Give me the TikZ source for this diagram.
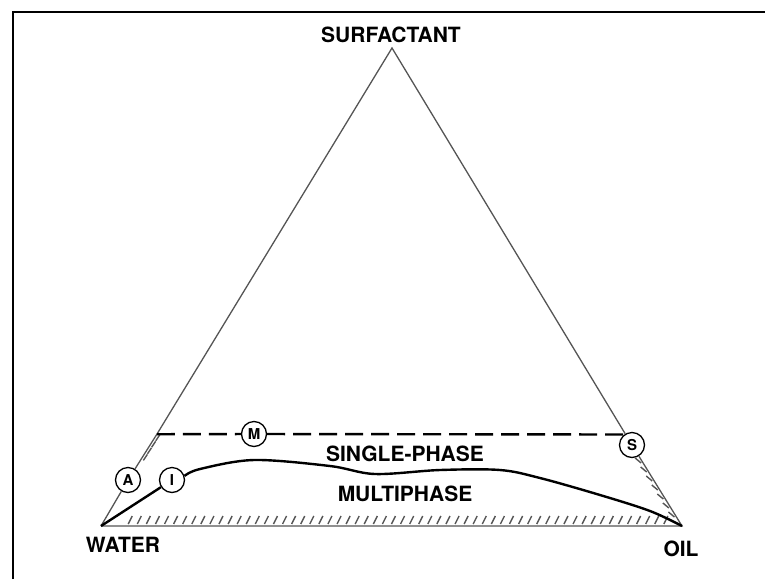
\documentclass[tikz,border=0pt]{standalone}
\usepackage{fontspec}
\setmainfont{TeX Gyre Heros}
\usepackage{tikz}
\usetikzlibrary{positioning, calc}
\definecolor{edgegray}{HTML}{555555}
\definecolor{hatchgray}{HTML}{555555}
\tikzset{
  % corner and region labels
  lbl/.style={font=\fontsize{21}{23}\selectfont\bfseries, inner sep=0pt},
  % circled composition points
  marker/.style={circle, draw=black, fill=white, line width=1.3pt,
                 minimum size=25pt, inner sep=0pt,
                 font=\fontsize{15}{16}\selectfont\bfseries},
  % triangle sides
  side/.style={draw=edgegray, line width=1.3pt},
  % phase boundary and dilution line
  boundary/.style={draw=black, line width=2.4pt},
  dilution/.style={draw=black, line width=2.4pt, dash pattern=on 18pt off 8pt},
  hatch/.style={draw=hatchgray, line width=1.4pt},
  frame/.style={draw=black, line width=2pt},
}

\begin{document}
\begin{tikzpicture}[x=1pt, y=-1pt]
\useasboundingbox (0,0) rectangle (765,579);

% ── Frame ────────────────────────────────────────────────────────────────────
\draw[frame] (13,579) -- (13,12) -- (765,12);

% ── Corners ──────────────────────────────────────────────────────────────────
\coordinate (surf)  at (392, 48);
\coordinate (water) at (101,526);
\coordinate (oil)   at (682,526);
\coordinate (corner) at ($(water)!0.192!(surf)$);

% ── Points ───────────────────────────────────────────────────────────────────
\node[marker] (A) at (128,480) {A};
\node[marker] (I) at (172,480) {I};
\node[marker] (M) at (254,434) {M};
\node[marker] (S) at (632,445) {S};

% ── Labels ───────────────────────────────────────────────────────────────────
\node[lbl] (surflabel)  at (391, 35) {SURFACTANT};
\node[lbl] (waterlabel) at (123,545) {WATER};
\node[lbl] (oillabel)   at (681,549) {OIL};
\node[lbl] (single)     at (405,454) {SINGLE-PHASE};
\node[lbl] (multi)      at (405,494) {MULTIPHASE};

% ── Triangle ─────────────────────────────────────────────────────────────────
\draw[side] (water) -- (A) -- (corner) -- (surf) -- (S) -- (oil) -- (water);

% hatching on the sides of the multiphase region
\foreach \i [evaluate=\i as \f using \i/64] in {3,...,62}
  \draw[hatch] ($(water)!\f!(oil)$) ++(0,-2) -- ++(4,-8);
\foreach \i [evaluate=\i as \f using \i/9] in {2,...,8}
  \draw[hatch] ($(S)!\f!(oil)$) ++(-2,0) -- ++(-6,-5);
\foreach \i [evaluate=\i as \f using \i/7] in {1,...,4}
  \draw[hatch] ($(corner)!\f!(A)$) ++(3,0) -- ++(4,-6);

% ── Dilution line ────────────────────────────────────────────────────────────
\draw[dilution] (corner) -- (M) -- (S.127);

% ── Phase boundary ───────────────────────────────────────────────────────────
\draw[boundary] (water) -- (I);
\draw[boundary] plot[smooth, tension=0.55] coordinates {(I.18) (200,469)
  (254,460) (330,466) (375,474) (440,470) (500,470) (540,478) (600,495)
  (650,511) (oil)};

\end{tikzpicture}
\end{document}
